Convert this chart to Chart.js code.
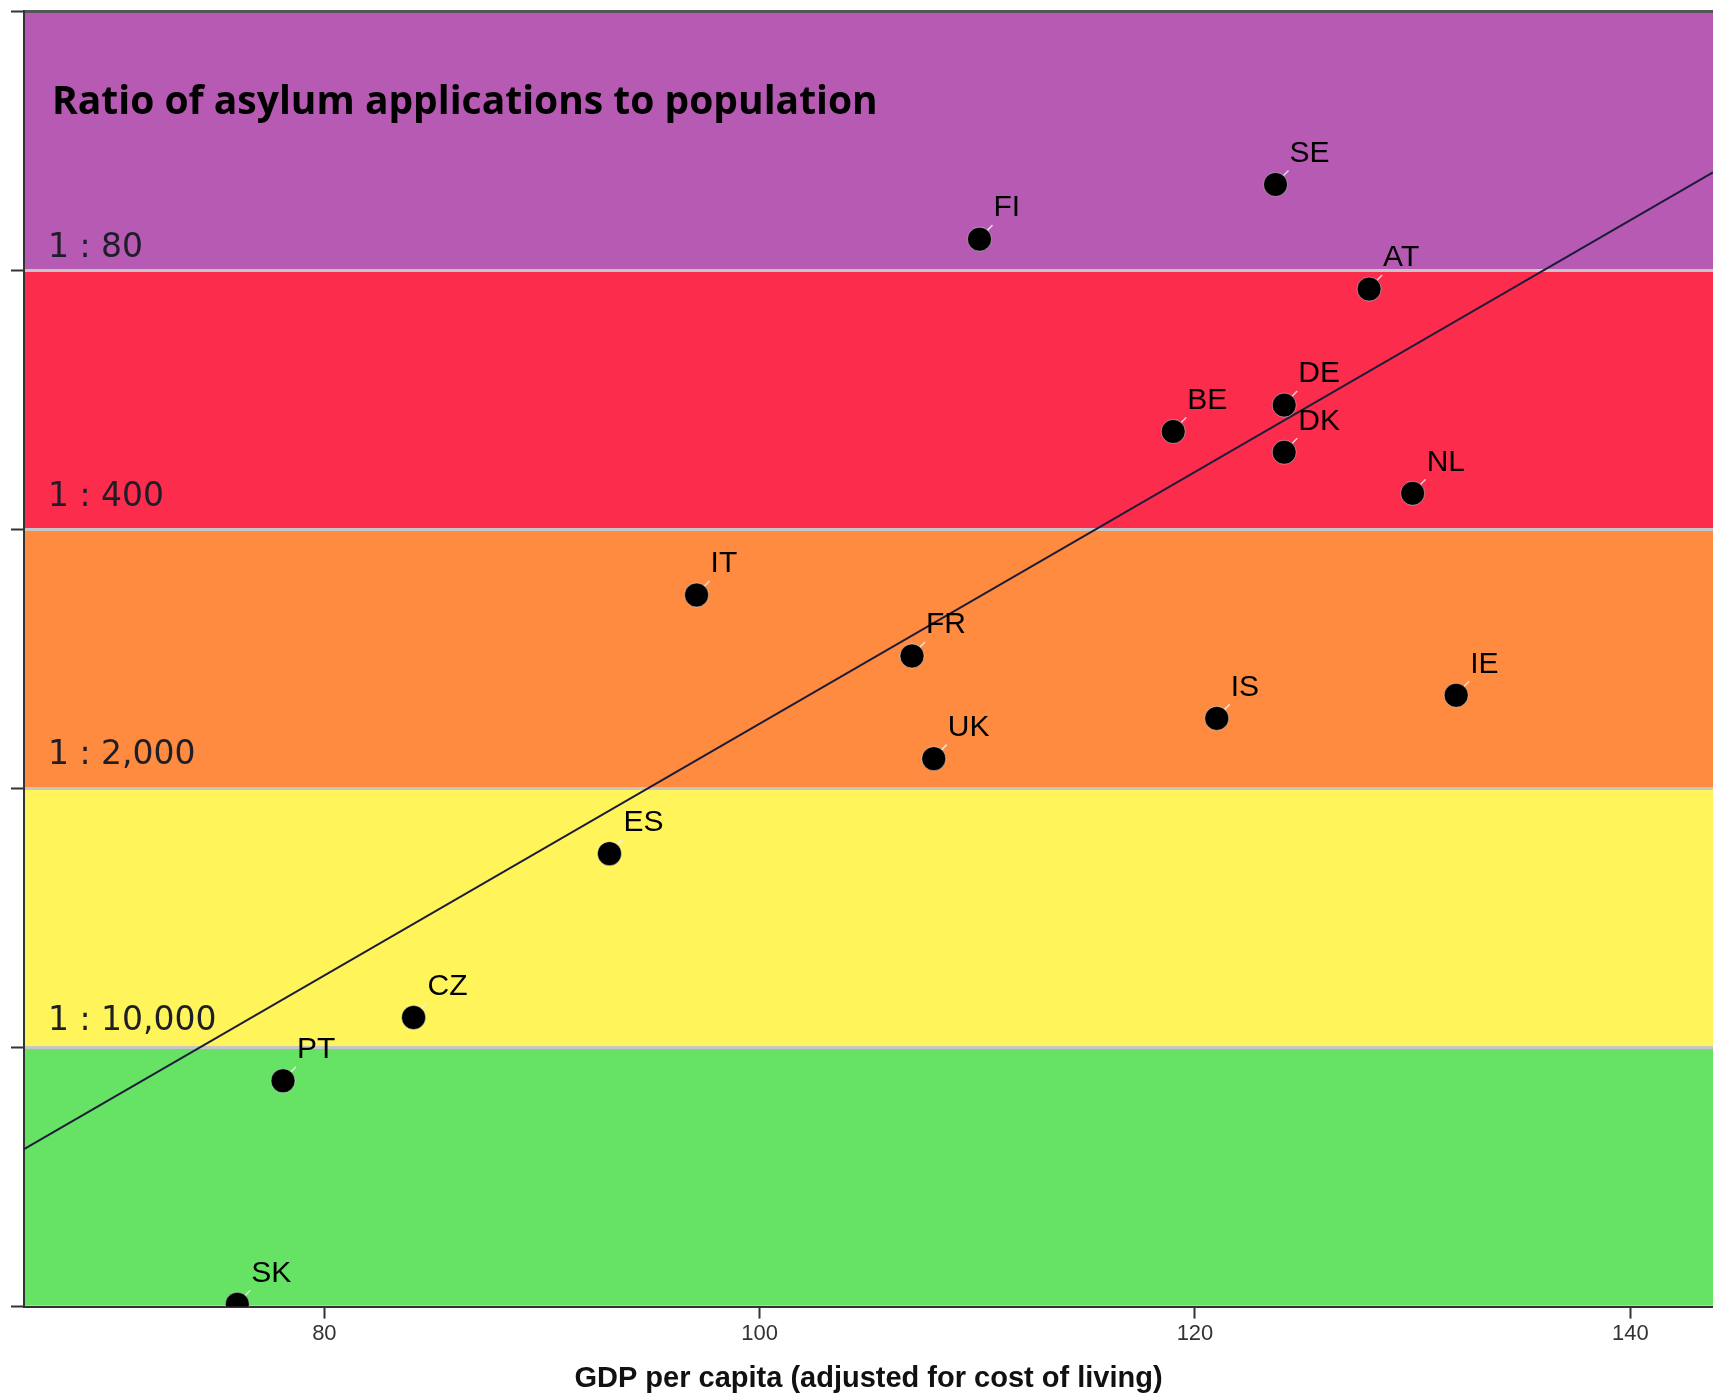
<!DOCTYPE html>
<html>
<head>
<meta charset="utf-8">
<script src="https://cdn.jsdelivr.net/npm/chart.js@4.4.0/dist/chart.umd.min.js"></script>
<style>
  html, body { margin: 0; padding: 0; background: #fff; overflow: hidden; }
  canvas { display: block; }
</style>
</head>
<body>
<canvas id="asylum" width="1713" height="1396"></canvas>
<script>
// country codes, GDP per capita index, people per asylum application (1 : N)
const countries = ['SE', 'FI', 'AT', 'DE', 'BE', 'DK', 'NL', 'IT', 'FR', 'IE', 'IS', 'UK', 'ES', 'CZ', 'PT', 'SK'];
const gdpIndex = [123.7, 110.1, 128.0, 124.1, 119.0, 124.1, 130.0, 97.1, 107.0, 132.0, 121.0, 108.0, 93.1, 84.1, 78.1, 76.0];
const peoplePerApplication = [47, 66, 90, 185, 218, 248, 320, 602, 879, 1122, 1295, 1663, 3000, 8300, 12300, 49300];

// fitted trend line, ends read at the plot edges
const trendGdp = [66.2, 143.8];
const trendPeople = [18800, 43.6];

const xTicks = [80, 100, 120, 140];
const ratioTicks = [16, 80, 400, 2000, 10000, 50000];
const ratioLabels = ['', '1 : 80', '1 : 400', '1 : 2,000', '1 : 10,000', ''];

const bandColors = ['#b75ab3', '#fc2d4c', '#fe8b40', '#fff55a', '#66e264'];

const bands = {
  id: 'bands',
  beforeDraw(chart) {
    const {ctx, chartArea: a, scales: {y}} = chart;
    ctx.save();
    for (let i = 0; i < bandColors.length; i++) {
      const top = y.getPixelForValue(ratioTicks[i]);
      const bottom = y.getPixelForValue(ratioTicks[i + 1]);
      ctx.fillStyle = bandColors[i];
      ctx.fillRect(a.left, top, a.right - a.left, bottom - top);
    }
    ctx.restore();
  },
  beforeDatasetsDraw(chart) {
    const {ctx, chartArea: a, scales: {y}} = chart;
    // how far each band label sits above its boundary line
    const lift = [0, 13, 23, 24, 17, 0];
    ctx.save();
    ctx.fillStyle = '#1e1e28';
    ctx.font = '33px "DejaVu Sans"';
    ctx.textAlign = 'left';
    ctx.textBaseline = 'alphabetic';
    ratioTicks.forEach((v, i) => {
      if (!ratioLabels[i]) return;
      ctx.fillText(ratioLabels[i], a.left + 24, y.getPixelForValue(v) - lift[i]);
    });
    ctx.fillStyle = '#000';
    ctx.font = '700 39px "Open Sans"';
    ctx.fillText('Ratio of asylum applications to population', a.left + 28, a.top + 103);
    ctx.restore();
  },
  afterDatasetsDraw(chart) {
    const {ctx} = chart;
    const meta = chart.getDatasetMeta(0);
    ctx.save();
    ctx.font = '30px "Liberation Sans"';
    ctx.fillStyle = '#000';
    ctx.textAlign = 'left';
    ctx.textBaseline = 'middle';
    ctx.strokeStyle = 'rgba(240,240,240,0.85)';
    ctx.lineWidth = 1.5;
    meta.data.forEach((pt, i) => {
      ctx.beginPath();
      ctx.moveTo(pt.x + 8, pt.y - 9);
      ctx.lineTo(pt.x + 13, pt.y - 14);
      ctx.stroke();
      ctx.fillText(countries[i], pt.x + 14, pt.y - 31);
    });
    ctx.restore();
  }
};

const noPad = s => { s.paddingLeft = 0; s.paddingRight = 0; s.paddingTop = 0; s.paddingBottom = 0; };

const ctx = document.getElementById('asylum').getContext('2d');
new Chart(ctx, {
  type: 'scatter',
  data: {
    datasets: [{
      label: 'Countries',
      data: gdpIndex.map((g, i) => ({x: g, y: peoplePerApplication[i]})),
      backgroundColor: '#000',
      borderColor: 'rgba(255,255,255,0.45)',
      borderWidth: 1,
      pointRadius: 12
    }, {
      type: 'line',
      label: 'Trend',
      data: trendGdp.map((g, i) => ({x: g, y: trendPeople[i]})),
      borderColor: '#1c1c38',
      borderWidth: 2,
      pointRadius: 0,
      fill: false
    }]
  },
  options: {
    responsive: false,
    devicePixelRatio: 1,
    animation: false,
    layout: { autoPadding: false, padding: { left: 11, top: 11, right: 0, bottom: 3 } },
    plugins: { legend: { display: false }, tooltip: { enabled: false } },
    scales: {
      x: {
        type: 'linear',
        min: 66.2,
        max: 143.8,
        afterBuildTicks: s => { s.ticks = xTicks.map(v => ({value: v})); },
        afterFit: noPad,
        ticks: { color: '#333', font: { family: 'Liberation Sans', size: 22 }, padding: 2 },
        grid: { drawOnChartArea: false, tickLength: 12, tickColor: '#333', tickWidth: 2 },
        border: { color: '#333', width: 2 },
        title: {
          display: true,
          text: 'GDP per capita (adjusted for cost of living)',
          color: '#111',
          font: { family: 'Liberation Sans', weight: 'bold', size: 29, lineHeight: 1 },
          padding: { top: 15, bottom: 0 }
        }
      },
      y: {
        type: 'logarithmic',
        reverse: true,
        min: 16,
        max: 50000,
        afterBuildTicks: s => { s.ticks = ratioTicks.map(v => ({value: v})); },
        afterFit: noPad,
        ticks: { display: false },
        grid: {
          color: c => (c.tick && c.tick.value === 16) ? '#555' : '#c6c6c6',
          lineWidth: 3,
          tickLength: 13,
          tickColor: '#333',
          tickWidth: 2
        },
        border: { color: '#333', width: 2 }
      }
    }
  },
  plugins: [bands]
});
</script>
</body>
</html>
